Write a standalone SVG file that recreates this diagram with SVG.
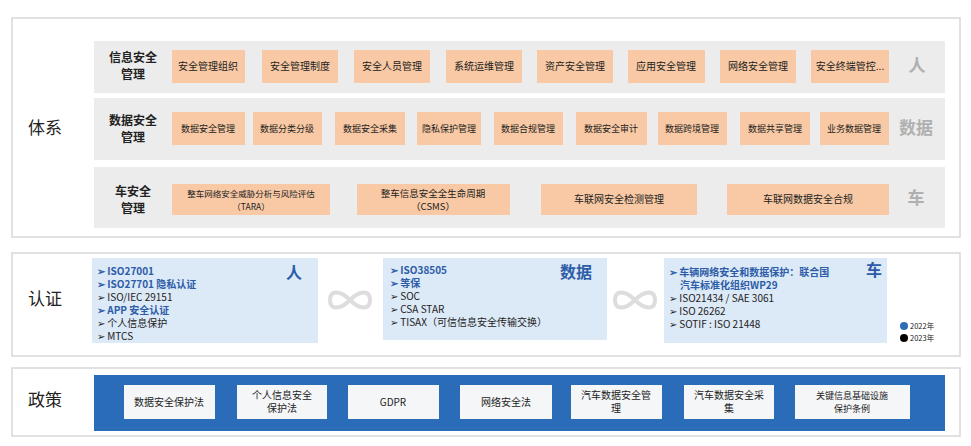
<svg xmlns="http://www.w3.org/2000/svg" width="971" height="446" viewBox="0 0 971 446">
<style>
text{font-family:"Noto Sans CJK SC","Noto Sans",sans-serif;fill:#222}
.frame{fill:#fff;stroke:#d8d8d8;stroke-width:1.5}
.band{fill:#ececec}
.ob{fill:#f8c9a4}
.ot{font-size:10px;text-anchor:middle}
.rl{font-size:12px;font-weight:bold;text-anchor:middle}
.big{font-size:17px}
.side{font-size:17px;fill:#b0b0b0;font-weight:bold;text-anchor:middle}
.pan{fill:#dce9f6}
.it{font-size:10px}
.bl{fill:#2d5ca8;font-weight:bold}
.ph{font-size:16px;font-weight:bold;fill:#2d5ca8;text-anchor:end}
.wb{fill:#f4f6f8}
.wt{font-size:10px;text-anchor:middle}
.inf{fill:none;stroke:#ddd;stroke-width:4}
</style>
<rect width="971" height="446" fill="#fff"/>
<g id="tixi">
<rect class="frame" x="12" y="18" width="948" height="219"/>
<text class="big" x="45" y="134" text-anchor="middle">体系</text>
<rect class="band" x="94" y="41" width="851" height="52"/>
<rect class="band" x="94" y="98" width="851" height="62"/>
<rect class="band" x="94" y="167" width="851" height="61"/>
<text class="rl" x="133" y="62">信息安全</text><text class="rl" x="133" y="79">管理</text>
<text class="rl" x="133" y="125">数据安全</text><text class="rl" x="133" y="142">管理</text>
<text class="rl" x="133" y="196">车安全</text><text class="rl" x="133" y="213">管理</text>
<text class="side" x="917" y="72">人</text>
<text class="side" x="916" y="134">数据</text>
<text class="side" x="916" y="204">车</text>
<g id="r1">
<rect class="ob" x="172" y="50" width="73" height="33"/><text class="ot" x="208" y="70">安全管理组织</text>
<rect class="ob" x="262" y="50" width="76" height="33"/><text class="ot" x="300" y="70">安全管理制度</text>
<rect class="ob" x="354" y="50" width="76" height="33"/><text class="ot" x="392" y="70">安全人员管理</text>
<rect class="ob" x="446" y="50" width="76" height="33"/><text class="ot" x="484" y="70">系统运维管理</text>
<rect class="ob" x="537" y="50" width="76" height="33"/><text class="ot" x="575" y="70">资产安全管理</text>
<rect class="ob" x="628" y="50" width="77" height="33"/><text class="ot" x="666" y="70">应用安全管理</text>
<rect class="ob" x="720" y="50" width="76" height="33"/><text class="ot" x="758" y="70">网络安全管理</text>
<rect class="ob" x="811" y="50" width="78" height="33"/><text class="ot" x="850" y="70">安全终端管控...</text>
</g>
<g id="r2">
<rect class="ob" x="172" y="112" width="73" height="33"/><text class="ot" x="208" y="132" style="font-size:9px">数据安全管理</text>
<rect class="ob" x="253" y="112" width="69" height="33"/><text class="ot" x="287" y="132" style="font-size:9px">数据分类分级</text>
<rect class="ob" x="335" y="112" width="70" height="33"/><text class="ot" x="370" y="132" style="font-size:9px">数据安全采集</text>
<rect class="ob" x="417" y="112" width="64" height="33"/><text class="ot" x="449" y="132" style="font-size:9px">隐私保护管理</text>
<rect class="ob" x="494" y="112" width="69" height="33"/><text class="ot" x="528" y="132" style="font-size:9px">数据合规管理</text>
<rect class="ob" x="576" y="112" width="71" height="33"/><text class="ot" x="611" y="132" style="font-size:9px">数据安全审计</text>
<rect class="ob" x="658" y="112" width="69" height="33"/><text class="ot" x="692" y="132" style="font-size:9px">数据跨境管理</text>
<rect class="ob" x="740" y="112" width="70" height="33"/><text class="ot" x="775" y="132" style="font-size:9px">数据共享管理</text>
<rect class="ob" x="820" y="112" width="69" height="33"/><text class="ot" x="854" y="132" style="font-size:9px">业务数据管理</text>
</g>
<g id="r3">
<rect class="ob" x="172" y="184" width="158" height="31"/><text class="ot" x="251" y="197" style="font-size:8.5px">整车网络安全威胁分析与风险评估</text><text class="ot" x="251" y="210" style="font-size:8.5px">（TARA）</text>
<rect class="ob" x="357" y="184" width="153" height="31"/><text class="ot" x="433" y="197" style="font-size:9.5px">整车信息安全全生命周期</text><text class="ot" x="433" y="210" style="font-size:9.5px">（CSMS）</text>
<rect class="ob" x="541" y="184" width="156" height="31"/><text class="ot" x="619" y="203">车联网安全检测管理</text>
<rect class="ob" x="727" y="184" width="162" height="31"/><text class="ot" x="808" y="203">车联网数据安全合规</text>
</g>
</g>
<g id="renzheng">
<rect class="frame" x="12" y="253" width="948" height="103"/>
<text class="big" x="45" y="305" text-anchor="middle">认证</text>
<rect class="pan" x="92" y="258" width="226" height="85"/>
<rect class="pan" x="383" y="258" width="224" height="82"/>
<rect class="pan" x="664" y="258" width="223" height="85"/>
<text class="ph" x="302" y="278">人</text>
<text class="ph" x="592" y="278">数据</text>
<text class="ph" x="882" y="276">车</text>
<g class="it">
<text x="97" y="275" class="bl">➢ ISO27001</text>
<text x="97" y="288" class="bl">➢ ISO27701 隐私认证</text>
<text x="97" y="301">➢ ISO/IEC 29151</text>
<text x="97" y="314" class="bl">➢ APP 安全认证</text>
<text x="97" y="327">➢ 个人信息保护</text>
<text x="97" y="340">➢ MTCS</text>
<text x="390" y="274" class="bl">➢ ISO38505</text>
<text x="390" y="287" class="bl">➢ 等保</text>
<text x="390" y="300">➢ SOC</text>
<text x="390" y="313">➢ CSA STAR</text>
<text x="390" y="326">➢ TISAX（可信信息安全传输交换）</text>
<text x="669" y="276" class="bl">➢ 车辆网络安全和数据保护：联合国</text>
<text x="680" y="289" class="bl">汽车标准化组织WP29</text>
<text x="669" y="302">➢ ISO21434 / SAE 3061</text>
<text x="669" y="315">➢ ISO 26262</text>
<text x="669" y="328">➢ SOTIF : ISO 21448</text>
</g>
<path class="inf" d="M350 300 C340 290 330 290 330 300 C330 310 340 310 350 300 C360 290 370 290 370 300 C370 310 360 310 350 300Z"/>
<path class="inf" d="M635 300 C625 290 615 290 615 300 C615 310 625 310 635 300 C645 290 655 290 655 300 C655 310 645 310 635 300Z"/>
<circle cx="904" cy="326" r="4" fill="#2d6db5"/><text x="910" y="329" style="font-size:7.5px">2022年</text>
<circle cx="904" cy="338" r="4" fill="#000"/><text x="910" y="341" style="font-size:7.5px">2023年</text>
</g>
<g id="zhengce">
<rect class="frame" x="12" y="368" width="948" height="68"/>
<text class="big" x="45" y="406" text-anchor="middle">政策</text>
<rect x="94" y="375" width="851" height="56" fill="#2b6cb8"/>
<rect class="wb" x="124" y="385" width="91" height="34"/><text class="wt" x="169" y="406">数据安全保护法</text>
<rect class="wb" x="237" y="385" width="90" height="34"/><text class="wt" x="282" y="399">个人信息安全</text><text class="wt" x="282" y="412">保护法</text>
<rect class="wb" x="348" y="385" width="91" height="34"/><text class="wt" x="393" y="406">GDPR</text>
<rect class="wb" x="460" y="385" width="92" height="34"/><text class="wt" x="506" y="406">网络安全法</text>
<rect class="wb" x="571" y="385" width="91" height="34"/><text class="wt" x="616" y="399">汽车数据安全管</text><text class="wt" x="616" y="412">理</text>
<rect class="wb" x="684" y="385" width="90" height="34"/><text class="wt" x="729" y="399">汽车数据安全采</text><text class="wt" x="729" y="412">集</text>
<rect class="wb" x="795" y="385" width="115" height="34"/><text class="wt" x="852" y="399" style="font-size:9px">关键信息基础设施</text><text class="wt" x="852" y="412" style="font-size:9px">保护条例</text>
</g>
</svg>
